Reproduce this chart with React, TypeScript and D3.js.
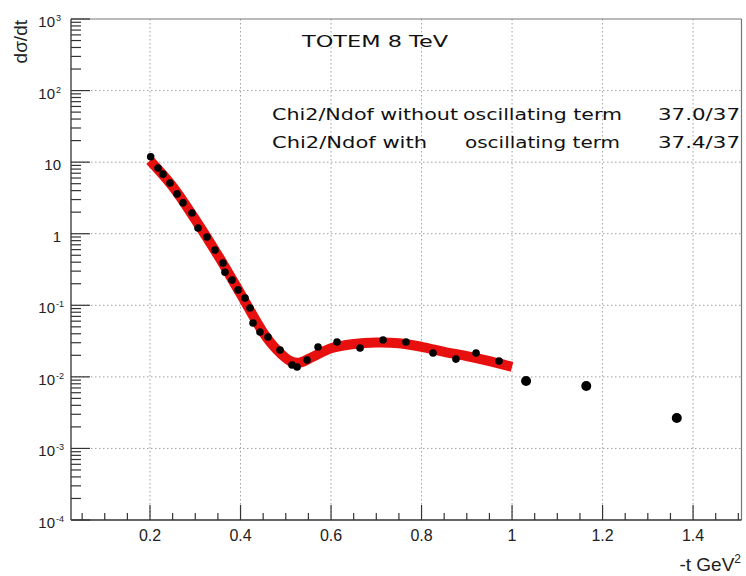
import React from "react";
import * as d3 from "d3";

const tData = [0.2015, 0.2177, 0.2287, 0.2442, 0.2597, 0.2729, 0.2928, 0.306, 0.326, 0.3436, 0.3613, 0.3657, 0.3812, 0.3945, 0.41, 0.421, 0.4276, 0.443, 0.4608, 0.4873, 0.5138, 0.5249, 0.547, 0.5713, 0.6133, 0.6641, 0.7149, 0.7657, 0.8254, 0.876, 0.9205, 0.9713, 1.031, 1.164, 1.364];
const dsdtData = [11.9, 8.3, 6.8, 5.1, 3.6, 2.7, 1.95, 1.2, 0.9, 0.59, 0.39, 0.29, 0.225, 0.164, 0.126, 0.0916, 0.0565, 0.0424, 0.0361, 0.0237, 0.01466, 0.01374, 0.0172, 0.0261, 0.0307, 0.0253, 0.0327, 0.0307, 0.0215, 0.0177, 0.0215, 0.0166, 0.00875, 0.00745, 0.00266];

const tFit = [0.2, 0.25, 0.3, 0.35, 0.4, 0.45, 0.48, 0.51, 0.53, 0.56, 0.6, 0.65, 0.7, 0.75, 0.8, 0.85, 0.9, 0.95, 1.0];
const dsdtFit = [10.5, 4.57, 1.58, 0.5, 0.145, 0.0417, 0.024, 0.0166, 0.0158, 0.0191, 0.0251, 0.0288, 0.0302, 0.0295, 0.0263, 0.0224, 0.0195, 0.0166, 0.0138];

const xMajorTicks = [0.2, 0.4, 0.6, 0.8, 1.0, 1.2, 1.4];
const xTickLabels = ["0.2", "0.4", "0.6", "0.8", "1", "1.2", "1.4"];
const yDecadeExps = [-4, -3, -2, -1, 0, 1, 2, 3];

const W = 746, H = 576;
const L = 71, R = 741.5, T = 19, B = 520;

export default function App() {
  const x = d3.scaleLinear().domain([0.0254, 1.507]).range([L, R]);
  const y = d3.scaleLog().domain([1e-4, 1e3]).range([B, T]);

  const xMinor: number[] = [];
  for (let i = 1; i <= 30; i++) {
    const v = i * 0.05;
    if (x(v) > L && x(v) <= R && Math.abs(v / 0.2 - Math.round(v / 0.2)) > 1e-6) xMinor.push(v);
  }
  const yMinor: number[] = [];
  for (let e = -4; e < 3; e++) for (let k = 2; k <= 9; k++) yMinor.push(k * Math.pow(10, e));

  const fitLine = d3
    .line<number>()
    .x((_, i) => x(tFit[i]))
    .y((d) => y(d))
    .curve(d3.curveCatmullRom.alpha(0.5));

  const grid = "#a0a0a0";
  const ax = "#333";

  return (
    <svg width={W} height={H} style={{ position: "absolute", left: 0, top: 0, background: "#fff" }} fontFamily="Liberation Sans, Arial, sans-serif">
      <rect x={0} y={0} width={W} height={H} fill="#fff" />
      {/* grid */}
      {xMajorTicks.map((v) => (
        <line key={"gx" + v} x1={x(v)} x2={x(v)} y1={T} y2={B} stroke={grid} strokeWidth={1} strokeDasharray="1.5,2.5" />
      ))}
      {yDecadeExps.slice(1, -1).map((e) => (
        <line key={"gy" + e} x1={L} x2={R} y1={y(Math.pow(10, e))} y2={y(Math.pow(10, e))} stroke={grid} strokeWidth={1} strokeDasharray="1.5,2.5" />
      ))}
      {/* frame */}
      <line x1={L} x2={R} y1={T} y2={T} stroke="#777" strokeWidth={1.2} />
      <line x1={R} x2={R} y1={T} y2={B} stroke="#777" strokeWidth={1.2} />
      <line x1={L} x2={L} y1={T} y2={B} stroke={ax} strokeWidth={1.3} />
      <line x1={L} x2={R} y1={B} y2={B} stroke={ax} strokeWidth={1.3} />
      {/* x ticks */}
      {xMajorTicks.map((v) => (
        <line key={"xt" + v} x1={x(v)} x2={x(v)} y1={B} y2={B - 15} stroke={ax} strokeWidth={1.2} />
      ))}
      {xMinor.map((v) => (
        <line key={"xm" + v} x1={x(v)} x2={x(v)} y1={B} y2={B - 7} stroke={ax} strokeWidth={1.2} />
      ))}
      {xMajorTicks.map((v, i) => (
        <text key={"xl" + v} x={x(v)} y={541} textAnchor="middle" fontSize={16} fill="#222">
          {xTickLabels[i]}
        </text>
      ))}
      {/* y ticks */}
      {yDecadeExps.map((e) => (
        <line key={"yt" + e} x1={L} x2={L + 19} y1={y(Math.pow(10, e))} y2={y(Math.pow(10, e))} stroke={ax} strokeWidth={1.2} />
      ))}
      {yMinor.map((v, i) => (
        <line key={"ym" + i} x1={L} x2={L + 10} y1={y(v)} y2={y(v)} stroke={ax} strokeWidth={1.2} />
      ))}
      {yDecadeExps.map((e) => (
        <text key={"yl" + e} x={e === 0 || e === 1 ? 61 : 55} y={y(Math.pow(10, e)) + 8} textAnchor="end" fontSize={15} fill="#222">
          {e === 0 ? "1" : "10"}
        </text>
      ))}
      {yDecadeExps.filter((e) => e !== 0 && e !== 1).map((e) => (
        <text key={"ys" + e} x={56} y={y(Math.pow(10, e)) + 2} textAnchor="start" fontSize={9} fill="#222">
          {String(e)}
        </text>
      ))}
      {/* axis titles */}
      <text x={741} y={571} textAnchor="end" fontSize={19} fill="#222">
        -t GeV<tspan dy={-8} fontSize={12}>2</tspan>
      </text>
      <text transform="translate(27,20) rotate(-90)" textAnchor="end" fontSize={19} fill="#222">
        dσ/dt
      </text>
      {/* fit band */}
      <path d={fitLine(dsdtFit) || ""} fill="none" stroke="#e8100f" strokeWidth={10} strokeLinecap="butt" strokeLinejoin="round" />
      {/* data */}
      {dsdtData.map((d, i) => (
        <circle key={"p" + i} cx={x(tData[i])} cy={y(d)} r={tData[i] > 1 ? 5 : 3.8} fill="#000" />
      ))}
      {/* annotations */}
      <g fontFamily="DejaVu Sans, sans-serif" fill="#111" fontSize={16}>
        <text x={302} y={47} textLength={146} lengthAdjust="spacingAndGlyphs">TOTEM  8 TeV</text>
        <text x={272} y={120} textLength={186} lengthAdjust="spacingAndGlyphs">Chi2/Ndof without</text>
        <text x={463} y={120} textLength={159} lengthAdjust="spacingAndGlyphs">oscillating term</text>
        <text x={658} y={120} textLength={82} lengthAdjust="spacingAndGlyphs">37.0/37</text>
        <text x={272} y={148} textLength={155} lengthAdjust="spacingAndGlyphs">Chi2/Ndof with</text>
        <text x={465} y={148} textLength={155} lengthAdjust="spacingAndGlyphs">oscillating term</text>
        <text x={658} y={148} textLength={82} lengthAdjust="spacingAndGlyphs">37.4/37</text>
      </g>
    </svg>
  );
}
